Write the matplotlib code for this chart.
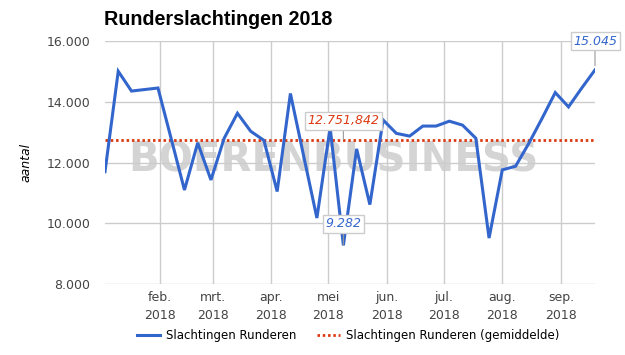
import matplotlib
matplotlib.use("Agg")
from matplotlib import pyplot as plt
import pandas as pd

# weekelijkse slachtingen (runderen), 2018
week_start = "2018-01-03"
slachtingen = [11700, 15000, 14350, 14400, 14450, 12780, 11100, 12650, 11430, 12800,
               13620, 13030, 12730, 11050, 14270, 12220, 10180, 13150, 9282, 12450,
               10620, 13400, 12960, 12870, 13200, 13200, 13360, 13230, 12800, 9520,
               11760, 11880, 12630, 13450, 14300, 13830, 14450, 15045]
gemiddelde = 12751.842

maand_ticks = ["2018-02-01", "2018-03-01", "2018-04-01", "2018-05-01",
               "2018-06-01", "2018-07-01", "2018-08-01", "2018-09-01"]
maand_labels = ["feb.", "mrt.", "apr.", "mei", "jun.", "jul.", "aug.", "sep."]
y_ticks = [8000, 10000, 12000, 14000, 16000]
y_labels = ["8.000", "10.000", "12.000", "14.000", "16.000"]

blauw = "#3366cc"
rood = "#dc3912"

datums = pd.date_range(week_start, periods=len(slachtingen), freq="7D")

fig = plt.figure(figsize=(6.25, 3.55), dpi=100)
ax = fig.add_axes([0.168, 0.199, 0.784, 0.686])

# watermerk (onder het raster)
ax.text(0.467, 0.51, "BOERENBUSINESS", transform=ax.transAxes, ha="center", va="center",
        fontsize=29, fontweight="bold", family="DejaVu Sans", color="#d4d4d4", zorder=0.2)

ax.plot(datums, slachtingen, color=blauw, lw=2.2, zorder=3, label="Slachtingen Runderen",
        solid_joinstyle="miter")
ax.plot([datums[0], datums[-1]], [gemiddelde, gemiddelde], color=rood, lw=2.0,
        linestyle=(0, (0.9, 1.0)), dash_capstyle="butt", zorder=2,
        label="Slachtingen Runderen (gemiddelde)")

ax.set_xlim(datums[0], datums[-1])
ax.set_ylim(8000, 16000)
ax.set_yticks(y_ticks)
ax.set_yticklabels(y_labels)
ax.set_xticks(pd.to_datetime(maand_ticks))
ax.set_xticklabels([m + "\n2018" for m in maand_labels], linespacing=1.45)
ax.tick_params(axis="both", length=0, labelsize=9, labelcolor="#444444")
ax.tick_params(axis="y", pad=10.5)
ax.tick_params(axis="x", pad=5)
ax.grid(True, color="#cccccc", lw=1)
ax.set_axisbelow(True)
for s in ax.spines.values():
    s.set_visible(False)

ax.set_ylabel("aantal", fontsize=9, style="italic", labelpad=10)

# labels bij min, max en gemiddelde
box = dict(boxstyle="square,pad=0.2", fc="white", ec="#cccccc", lw=1)
i_min = slachtingen.index(min(slachtingen))
ax.annotate("15.045", (datums[-1], slachtingen[-1]), xytext=(0, 16), textcoords="offset points",
            ha="center", va="bottom", color=blauw, fontsize=9, style="italic", bbox=box,
            annotation_clip=False, arrowprops=dict(arrowstyle="-", color="#999999", lw=0.8,
                                                   shrinkA=0, shrinkB=3))
ax.annotate("9.282", (datums[i_min], slachtingen[i_min]), xytext=(0, 11), textcoords="offset points",
            ha="center", va="bottom", color=blauw, fontsize=9, style="italic", bbox=box,
            arrowprops=dict(arrowstyle="-", color="#999999", lw=0.8, shrinkA=0, shrinkB=0))
ax.annotate("12.751,842", (datums[i_min], gemiddelde), xytext=(0, 9), textcoords="offset points",
            ha="center", va="bottom", color=rood, fontsize=9, style="italic", bbox=box,
            arrowprops=dict(arrowstyle="-", color="#999999", lw=0.8, shrinkA=0, shrinkB=0))

fig.text(0.166, 0.944, "Runderslachtingen 2018", fontsize=14.2, fontweight="bold",
         family="Liberation Sans", va="center", ha="left")

fig.legend(loc="center", bbox_to_anchor=(0.557, 0.054), ncol=2, frameon=False,
           fontsize=8.5, handlelength=2.0, handletextpad=0.5, columnspacing=1.7)

fig.savefig("out.png", dpi=100)
